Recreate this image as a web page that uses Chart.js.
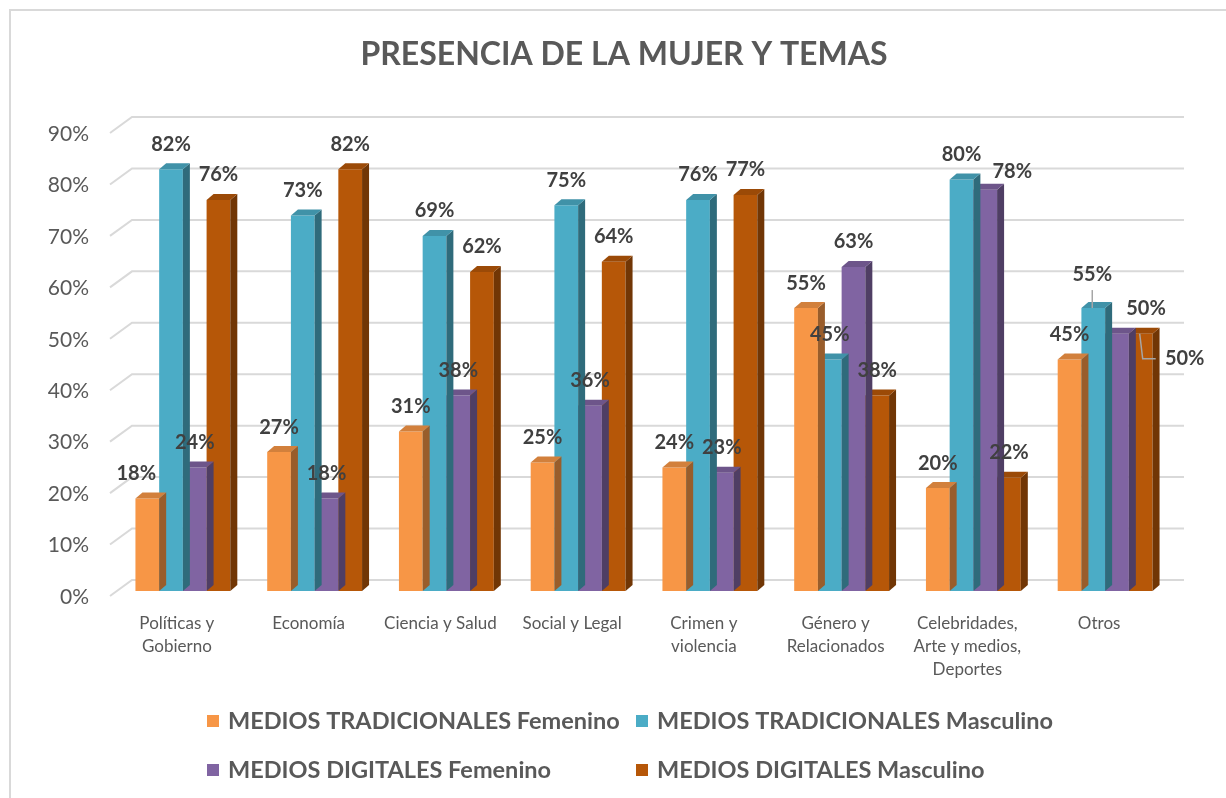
<!DOCTYPE html>
<html>
<head>
<meta charset="utf-8">
<title>Presencia de la mujer y temas</title>
<script src="https://cdn.jsdelivr.net/npm/chart.js@4.4.1/dist/chart.umd.min.js"></script>
<style>
  html, body { margin: 0; padding: 0; background: #fff; }
  #contenedor { position: relative; width: 1226px; height: 798px; }
</style>
</head>
<body>
<div id="contenedor"><canvas id="grafico"></canvas></div>
<script>
// === DATOS ===
const categorias = [
  ["Políticas y", "Gobierno"], "Economía", "Ciencia y Salud", "Social y Legal",
  ["Crimen y", "violencia"], ["Género y", "Relacionados"],
  ["Celebridades,", "Arte y medios,", "Deportes"], "Otros"
];
const tradFemenino  = [18, 27, 31, 25, 24, 55, 20, 45];
const tradMasculino = [82, 73, 69, 75, 76, 45, 80, 55];
const digFemenino   = [24, 18, 38, 36, 23, 63, 78, 50];
const digMasculino  = [76, 82, 62, 64, 77, 38, 22, 50];
const ticksY = [0, 10, 20, 30, 40, 50, 60, 70, 80, 90];
const nombresSeries = [
  "MEDIOS TRADICIONALES Femenino", "MEDIOS TRADICIONALES Masculino",
  "MEDIOS DIGITALES Femenino", "MEDIOS DIGITALES Masculino"
];
const titulo = "PRESENCIA DE LA MUJER Y TEMAS";

// === ESTILO ===
const colores = ["#F79646", "#4BACC6", "#8064A2", "#B65708"];
const FUENTE = "Lato, 'Open Sans', sans-serif";
const DX = 7, DY = 6; // profundidad de las barras

// etiquetas que Excel movió a mano (serie-índice)
const ajusteEtiquetas = {
  "0-0": { dx: -11, dy: 0 },
  "1-7": { dx: -1, dy: -9, guia: "vertical" },
  "2-6": { dx: 27, dy: 7 },
  "2-7": { dx: 29, dy: 0 },
  "3-7": { dx: 44, dy: 50, guia: "codo" }
};

function oscurecer(hex, f) {
  const n = parseInt(hex.slice(1), 16);
  const r = Math.round(((n >> 16) & 255) * f);
  const g = Math.round(((n >> 8) & 255) * f);
  const b = Math.round((n & 255) * f);
  return `rgb(${r},${g},${b})`;
}

// === PLUGINS ===
const marco = {
  id: "marco",
  beforeDraw(chart) {
    const ctx = chart.ctx;
    ctx.save();
    ctx.fillStyle = "#fff";
    ctx.fillRect(0, 0, chart.width, chart.height);
    ctx.strokeStyle = "#d9d9d9";
    ctx.lineWidth = 2;
    ctx.strokeRect(10, 10, chart.width + 20, chart.height + 20);
    // título
    ctx.font = `bold 32px ${FUENTE}`;
    ctx.fillStyle = "#595959";
    ctx.textAlign = "center";
    ctx.textBaseline = "middle";
    ctx.fillText(titulo, 624, 55);
    ctx.restore();
  }
};

// líneas de la pared del fondo
const paredFondo = {
  id: "paredFondo",
  beforeDatasetsDraw(chart) {
    const { ctx, chartArea: a, scales: { y } } = chart;
    ctx.save();
    ctx.strokeStyle = "#d9d9d9";
    ctx.lineWidth = 2;
    ticksY.forEach(v => {
      const py = y.getPixelForValue(v);
      ctx.beginPath();
      ctx.moveTo(a.left - 7, py + 5);
      ctx.lineTo(a.left + 15, py - 11);
      ctx.lineTo(a.right + 13, py - 11);
      ctx.stroke();
    });
    ctx.restore();
  }
};

// lado y tapa de cada barra
const barras3D = {
  id: "barras3D",
  afterDatasetDraw(chart, args) {
    const ctx = chart.ctx;
    const color = colores[args.index];
    ctx.save();
    args.meta.data.forEach(bar => {
      const w = bar.width, l = bar.x - w / 2, r = bar.x + w / 2, t = bar.y, b = bar.base;
      ctx.fillStyle = oscurecer(color, 0.62);
      ctx.beginPath();
      ctx.moveTo(r, b); ctx.lineTo(r + DX, b - DY); ctx.lineTo(r + DX, t - DY); ctx.lineTo(r, t);
      ctx.closePath(); ctx.fill();
      ctx.fillStyle = oscurecer(color, 0.85);
      ctx.beginPath();
      ctx.moveTo(l, t); ctx.lineTo(l + DX, t - DY); ctx.lineTo(r + DX, t - DY); ctx.lineTo(r, t);
      ctx.closePath(); ctx.fill();
    });
    ctx.restore();
  }
};

const etiquetas = {
  id: "etiquetas",
  afterDatasetsDraw(chart) {
    const ctx = chart.ctx;
    ctx.save();
    ctx.font = `bold 20px ${FUENTE}`;
    ctx.fillStyle = "#404040";
    ctx.textAlign = "center";
    ctx.textBaseline = "middle";
    chart.data.datasets.forEach((ds, i) => {
      chart.getDatasetMeta(i).data.forEach((bar, j) => {
        const aj = ajusteEtiquetas[i + "-" + j] || { dx: 0, dy: 0 };
        const x = bar.x + aj.dx, y = bar.y - 25 + aj.dy;
        if (aj.guia) {
          ctx.strokeStyle = "#a6a6a6";
          ctx.lineWidth = 1.5;
          ctx.beginPath();
          if (aj.guia === "vertical") {
            ctx.moveTo(x, y + 16); ctx.lineTo(x, bar.y);
          } else {
            ctx.moveTo(bar.x - 1, bar.y); ctx.lineTo(bar.x + 2, y); ctx.lineTo(x - 29, y);
          }
          ctx.stroke();
        }
        ctx.fillText(ds.data[j] + "%", x, y);
      });
    });
    ctx.restore();
  }
};

// leyenda en dos columnas
const leyenda = {
  id: "leyenda",
  afterDraw(chart) {
    const ctx = chart.ctx;
    const cols = [207, 636], filas = [721, 770];
    ctx.save();
    ctx.font = `bold 23.5px ${FUENTE}`;
    ctx.textBaseline = "middle";
    chart.data.datasets.forEach((ds, i) => {
      const x = cols[i % 2], y = filas[Math.floor(i / 2)];
      ctx.fillStyle = ds.backgroundColor;
      ctx.fillRect(x, y - 6, 12, 12);
      ctx.fillStyle = "#595959";
      ctx.fillText(ds.label, x + 21, y);
    });
    ctx.restore();
  }
};

// === GRÁFICO ===
const series = [tradFemenino, tradMasculino, digFemenino, digMasculino];

new Chart(document.getElementById("grafico"), {
  type: "bar",
  data: {
    labels: categorias,
    datasets: series.map((d, i) => ({
      label: nombresSeries[i],
      data: d,
      backgroundColor: colores[i],
      borderWidth: 0,
      categoryPercentage: 0.72,
      barPercentage: 1
    }))
  },
  options: {
    responsive: true,
    maintainAspectRatio: false,
    animation: false,
    layout: { padding: { left: 17, right: 55, top: 128, bottom: 97 } },
    plugins: {
      legend: { display: false },
      tooltip: { enabled: false },
      title: { display: false }
    },
    scales: {
      x: {
        grid: { display: false, drawTicks: false },
        border: { display: false },
        ticks: {
          color: "#595959",
          font: { family: FUENTE, size: 17, lineHeight: 1.35 },
          padding: 21,
          labelOffset: -6,
          maxRotation: 0,
          autoSkip: false
        },
        afterFit: s => { s.height = 110; }
      },
      y: {
        min: 0,
        max: 90,
        grid: { display: false, drawTicks: false },
        border: { display: false },
        ticks: {
          color: "#595959",
          font: { family: FUENTE, size: 21 },
          padding: 28,
          labelOffset: 6,
          callback: v => v + "%"
        },
        afterBuildTicks: s => { s.ticks = ticksY.map(v => ({ value: v })); },
        afterFit: s => { s.width = 100; }
      }
    }
  },
  plugins: [marco, paredFondo, barras3D, etiquetas, leyenda]
});
</script>
</body>
</html>
